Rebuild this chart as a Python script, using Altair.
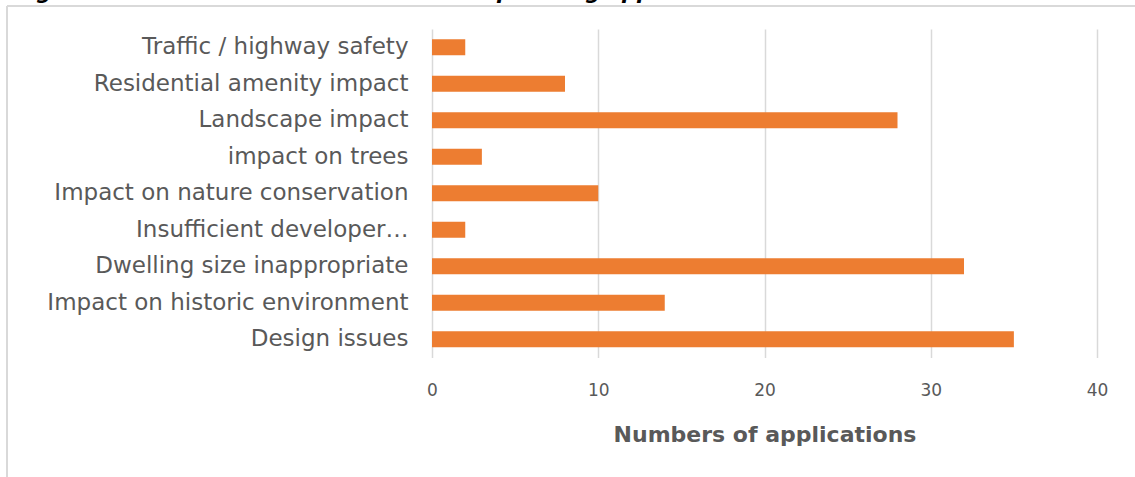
import altair as alt
import pandas as pd

categories = [
    "Traffic / highway safety",
    "Residential amenity impact",
    "Landscape impact",
    "impact on trees",
    "Impact on nature conservation",
    "Insufficient developer contributions",
    "Dwelling size inappropriate",
    "Impact on historic environment",
    "Design issues",
]
values = [2, 8, 28, 3, 10, 2, 32, 14, 35]
x_ticks = [0, 10, 20, 30, 40]
axis_title = "Numbers of applications"
fig_title = "Figure 4: Reasons cited in the refusal of planning applications 2015\u20132017"

df = pd.DataFrame({"reason": categories, "count": values})

TEXT = "#595959"
GRID = "#D9D9D9"
ORANGE = "#ED7D31"
FONT = "DejaVu Sans"

bars = alt.Chart(df).mark_bar(color=ORANGE).encode(
    x=alt.X(
        "count:Q",
        scale=alt.Scale(domain=[0, 40], nice=False),
        axis=alt.Axis(
            values=x_ticks,
            title=axis_title,
            grid=True,
            gridColor=GRID,
            gridWidth=1.5,
            domain=False,
            ticks=False,
            labelFont=FONT,
            labelFontSize=17,
            labelColor=TEXT,
            labelPadding=25,
            labelFlush=False,
            titleFont=FONT,
            titleFontSize=22,
            titleFontWeight="bold",
            titleColor=TEXT,
            titlePadding=26,
        ),
    ),
    y=alt.Y(
        "reason:N",
        sort=categories,
        scale=alt.Scale(paddingInner=0.56, paddingOuter=0.28),
        axis=alt.Axis(
            title=None,
            domain=False,
            ticks=False,
            grid=False,
            labelFont=FONT,
            labelFontSize=23,
            labelColor=TEXT,
            labelPadding=24,
            labelLimit=500,
            labelExpr="datum.value == 'Insufficient developer contributions' ? 'Insufficient developer\u2026' : datum.value",
        ),
    ),
)

one = pd.DataFrame({"k": [0]})
border_top = alt.Chart(one).mark_rule(color=GRID, strokeWidth=2).encode(
    x=alt.value(-425), x2=alt.value(703), y=alt.value(-23)
)
border_left = alt.Chart(one).mark_rule(color=GRID, strokeWidth=2).encode(
    x=alt.value(-425), y=alt.value(-23), y2=alt.value(448)
)
title_txt = alt.Chart(pd.DataFrame({"t": [fig_title]})).mark_text(
    align="left", baseline="alphabetic", font=FONT, fontSize=21,
    fontWeight="bold", fontStyle="italic", color="#000000",
).encode(x=alt.value(-417), y=alt.value(-30), text="t:N")

chart = alt.layer(border_top, border_left, title_txt, bars).properties(
    width=665,
    height=328.5,
    autosize=alt.AutoSizeParams(type="none"),
    padding={"left": 432, "top": 29, "right": 38, "bottom": 119.5},
    background="white",
).configure_view(stroke=None)

chart.save("out.html", embed_options={"renderer": "svg", "actions": False})
